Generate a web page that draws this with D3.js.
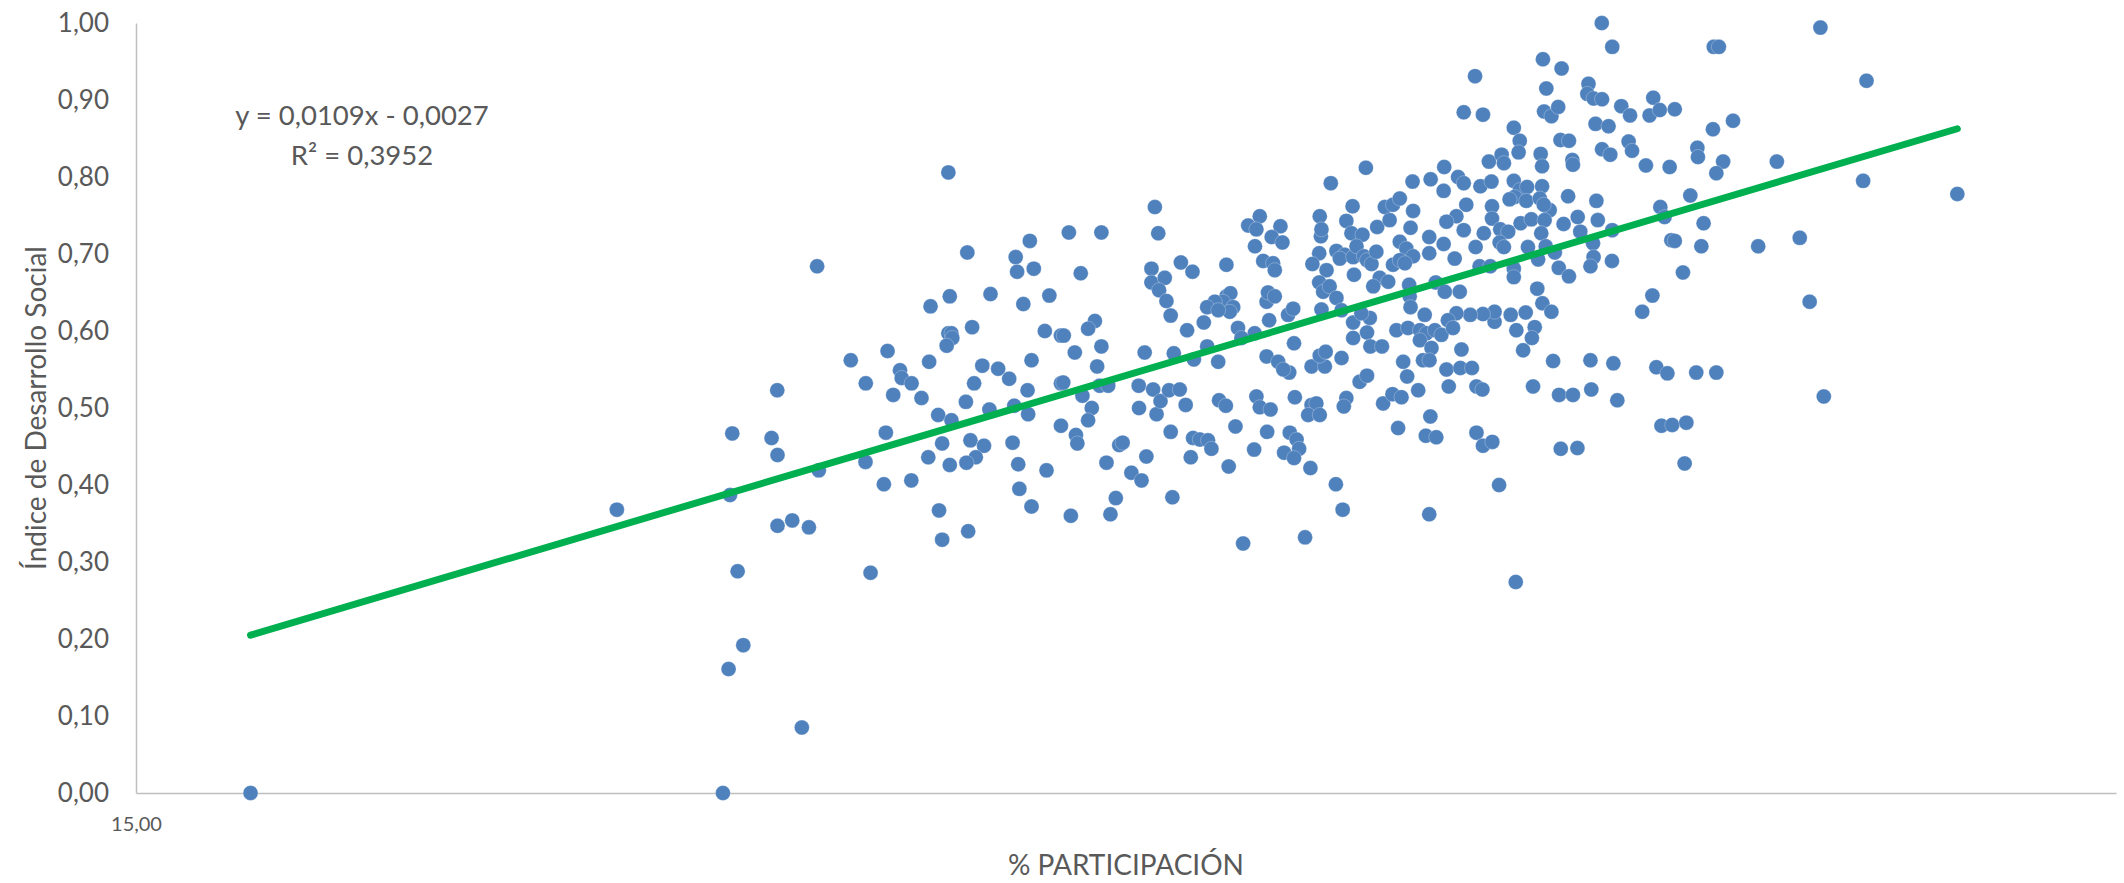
<!DOCTYPE html>
<html>
<head>
<meta charset="utf-8">
<script src="https://cdn.jsdelivr.net/npm/d3@7"></script>
<style>
  body { margin: 0; background: #fff; }
  text { font-family: Lato, "Open Sans", sans-serif; fill: #595959; }
</style>
</head>
<body>
<svg width="2124" height="883"></svg>
<script>
// Datos: [% participación, índice de desarrollo social]
const puntos = [
  [19.05,0.000],[32.0,0.368],
  [36.08,0.467],[37.47,0.461],[37.68,0.439],[36.00,0.387],[37.68,0.347],[38.20,0.354],[38.79,0.345],[36.27,0.288],
  [40.97,0.286],[36.47,0.192],[35.95,0.161],[38.54,0.085],[35.75,0.000],[39.14,0.419],[40.79,0.430],[41.51,0.468],
  [41.44,0.401],[42.41,0.406],[43.50,0.454],[43.01,0.436],[43.77,0.426],[44.50,0.458],[44.98,0.451],[44.69,0.436],
  [44.36,0.429],[43.39,0.367],[43.50,0.329],[44.42,0.340],[45.99,0.455],[46.19,0.427],[46.23,0.395],[46.66,0.372],
  [47.19,0.419],[47.70,0.477],
  [43.72,0.806],[46.60,0.717],[39.08,0.684],[44.39,0.702],[46.10,0.696],[46.15,0.677],[46.74,0.681],[43.77,0.645],
  [43.09,0.632],[45.21,0.648],[46.37,0.635],[47.29,0.646],[44.56,0.605],[47.13,0.600],[47.70,0.594],[43.72,0.597],
  [43.83,0.597],[43.86,0.591],[43.66,0.581],[41.57,0.574],[40.27,0.562],[43.04,0.560],[46.66,0.562],[42.01,0.549],
  [42.07,0.539],[42.42,0.532],[40.80,0.532],[44.92,0.555],[45.48,0.551],[45.87,0.538],[44.63,0.532],[46.52,0.523],
  [47.70,0.532],[37.67,0.523],[41.77,0.517],[42.77,0.513],[44.34,0.508],[45.17,0.498],[46.05,0.503],[46.54,0.492],
  [43.36,0.491],[43.83,0.484],
  [58.48,0.812],[57.24,0.792],[60.13,0.794],[60.77,0.797],[51.02,0.761],[51.14,0.727],[47.98,0.728],[49.13,0.728],
  [48.40,0.675],[54.32,0.737],[54.73,0.749],[54.61,0.732],[55.46,0.736],[55.15,0.722],[55.53,0.715],[54.56,0.710],
  [54.85,0.691],[55.20,0.688],[55.26,0.679],[56.85,0.749],[56.89,0.723],[56.91,0.732],[58.01,0.762],[57.79,0.743],
  [57.97,0.727],[58.36,0.725],[58.88,0.735],[59.15,0.761],[59.44,0.764],[59.68,0.772],[59.32,0.744],[60.15,0.756],
  [60.06,0.734],[60.72,0.722],[60.72,0.701],[56.83,0.701],[56.59,0.687],[57.09,0.679],[57.44,0.704],[57.73,0.699],
  [57.56,0.694],[58.03,0.696],[58.15,0.710],[58.41,0.697],[58.52,0.692],[58.68,0.687],[58.85,0.703],[58.06,0.673],
  [58.97,0.669],[58.74,0.658],[59.27,0.664],[59.44,0.686],[59.68,0.716],[59.91,0.707],[60.15,0.697],[59.68,0.692],
  [59.86,0.688],[60.01,0.660],[60.03,0.645],[60.06,0.631],[60.56,0.621],[60.95,0.663],[56.83,0.663],[56.97,0.651],
  [57.20,0.658],[57.44,0.643],[57.62,0.627],[56.91,0.628],[58.03,0.611],[58.62,0.617],[58.32,0.623],[58.52,0.598],
  [58.03,0.591],[58.64,0.580],[59.05,0.580],[59.56,0.601],[59.97,0.604],[60.39,0.601],[60.62,0.597],[60.92,0.601],
  [60.39,0.588],[60.80,0.578],[60.50,0.562],[60.73,0.562],[59.80,0.560],[59.94,0.541],[60.33,0.523],[60.76,0.489],
  [57.79,0.513],[57.70,0.502],[58.26,0.534],[58.52,0.542],[59.09,0.506],[59.42,0.518],[59.74,0.514],[57.62,0.565],
  [56.56,0.554],[57.03,0.554],[56.85,0.568],[57.06,0.573],[55.94,0.584],[55.97,0.514],[56.56,0.504],[56.73,0.506],
  [56.44,0.491],[56.85,0.491],[55.73,0.621],[55.91,0.629],[55.06,0.614],[54.97,0.638],[55.02,0.650],[55.26,0.645],
  [54.97,0.567],[55.38,0.560],[55.77,0.546],[55.56,0.550],[54.61,0.515],[54.73,0.501],[55.11,0.498],[54.55,0.597],
  [53.96,0.604],[54.08,0.591],[53.55,0.645],[53.69,0.649],[53.43,0.638],[53.79,0.631],[53.67,0.625],[53.14,0.638],
  [52.87,0.631],[53.26,0.627],[52.75,0.611],[52.87,0.580],[51.69,0.571],[52.40,0.563],[53.26,0.560],[53.55,0.686],
  [51.94,0.689],[52.35,0.677],[50.90,0.681],[50.90,0.663],[51.37,0.669],[51.17,0.653],[51.43,0.639],[51.58,0.620],
  [52.16,0.601],[50.66,0.572],[50.45,0.529],[50.96,0.524],[50.46,0.500],[51.08,0.492],[51.22,0.509],[51.52,0.523],
  [51.90,0.524],[52.11,0.504],[53.29,0.510],[53.53,0.503],[48.90,0.613],[48.66,0.603],[47.80,0.594],[48.19,0.572],
  [49.13,0.580],[48.98,0.554],[47.78,0.533],[48.46,0.516],[49.07,0.529],[49.37,0.529],[48.79,0.500],[48.66,0.484],
  [48.23,0.465],[48.28,0.454],[49.31,0.429],[49.76,0.452],[49.88,0.455],[50.72,0.437],[50.19,0.416],[50.55,0.406],
  [49.64,0.383],[49.45,0.362],[48.05,0.360],[51.64,0.384],[51.58,0.469],[52.37,0.461],[52.61,0.459],[52.90,0.458],
  [53.02,0.447],[52.29,0.436],[53.63,0.424],[53.87,0.476],[54.14,0.324],[54.53,0.446],[54.99,0.469],[55.79,0.468],
  [56.03,0.459],[56.12,0.447],[55.59,0.442],[55.94,0.435],[56.52,0.422],[56.33,0.332],[57.42,0.401],[57.66,0.368],
  [59.62,0.474],[60.60,0.464],[60.97,0.462],[60.72,0.362],
  [66.82,1.000],[67.19,0.969],[74.55,0.994],[70.78,0.969],[70.96,0.969],[64.74,0.953],[65.40,0.941],[62.34,0.931],
  [64.86,0.915],[66.35,0.921],[66.31,0.908],[66.53,0.902],[66.83,0.901],[61.94,0.884],[62.62,0.881],[64.78,0.885],
  [65.04,0.879],[65.28,0.891],[67.51,0.892],[67.82,0.880],[68.64,0.903],[68.51,0.880],[68.87,0.887],[69.40,0.888],
  [71.46,0.873],[70.75,0.862],[63.71,0.864],[66.60,0.869],[67.06,0.866],[65.36,0.848],[65.66,0.847],[63.92,0.847],
  [63.88,0.832],[67.77,0.846],[67.89,0.834],[66.83,0.836],[67.12,0.829],[64.66,0.830],[64.71,0.814],[65.78,0.822],
  [65.80,0.816],[68.38,0.815],[69.22,0.813],[70.20,0.838],[70.22,0.826],[71.11,0.820],[70.87,0.805],[73.01,0.820],
  [61.25,0.813],[62.83,0.820],[63.28,0.829],[63.36,0.818],[61.23,0.782],[61.74,0.800],[61.94,0.792],[62.53,0.788],
  [62.92,0.794],[63.71,0.795],[63.92,0.783],[64.18,0.787],[64.71,0.788],[63.74,0.774],[63.56,0.771],[64.15,0.769],
  [64.63,0.772],[65.63,0.775],[66.63,0.769],[62.03,0.764],[62.94,0.762],[64.98,0.757],[64.77,0.764],[61.68,0.749],
  [61.33,0.742],[62.94,0.746],[63.95,0.740],[64.33,0.745],[64.80,0.744],[65.47,0.739],[65.97,0.748],[66.68,0.744],
  [61.94,0.731],[62.65,0.727],[63.23,0.732],[63.51,0.729],[64.68,0.727],[66.06,0.729],[67.19,0.731],[61.23,0.713],
  [62.36,0.709],[63.21,0.715],[63.36,0.709],[64.21,0.709],[64.84,0.710],[65.16,0.702],[66.51,0.714],[66.53,0.696],
  [61.62,0.694],[62.50,0.684],[62.88,0.684],[63.71,0.681],[63.71,0.670],[64.57,0.693],[65.30,0.682],[65.66,0.671],
  [66.42,0.684],[67.18,0.691],[68.89,0.761],[69.04,0.748],[69.95,0.776],[70.42,0.740],[69.28,0.718],[69.40,0.717],
  [70.34,0.710],[72.35,0.710],[73.82,0.721],[69.69,0.676],[74.17,0.638],[61.27,0.651],[61.80,0.651],[64.54,0.655],
  [68.61,0.646],[68.25,0.625],[64.72,0.636],[65.04,0.625],[64.13,0.624],[63.60,0.621],[63.03,0.612],[63.03,0.625],
  [62.62,0.622],[62.17,0.621],[61.68,0.623],[61.38,0.614],[61.15,0.595],[61.56,0.604],[63.80,0.601],[64.45,0.605],
  [64.35,0.591],[64.04,0.575],[61.86,0.576],[61.33,0.550],[61.82,0.552],[62.23,0.552],[61.41,0.528],[62.39,0.528],
  [62.60,0.524],[64.39,0.528],[65.10,0.561],[66.42,0.562],[67.23,0.558],[65.31,0.517],[65.80,0.517],[66.45,0.524],
  [67.37,0.510],[68.75,0.553],[69.14,0.545],[70.16,0.546],[70.87,0.546],[74.67,0.515],
  [68.93,0.477],[69.31,0.478],[69.81,0.481],[69.75,0.428],[62.39,0.468],[62.62,0.451],[62.95,0.456],[63.19,0.400],
  [63.78,0.274],[65.37,0.447],[65.96,0.448],
  [76.18,0.925],[76.06,0.795],[79.39,0.778]
];

// Ejes y tendencia
const yTicks = [0, 0.1, 0.2, 0.3, 0.4, 0.5, 0.6, 0.7, 0.8, 0.9, 1.0];
const xTicks = [15];
const tendencia = [0.0109, -0.0027]; // pendiente, ordenada
const r2 = 0.3952;

const svg = d3.select("svg");
const es = d3.formatLocale({ decimal: ",", thousands: ".", grouping: [3], currency: ["", ""] });
const fmt = es.format(".2f");

const x = d3.scaleLinear().domain([15, 85]).range([136, 2116]);
const y = d3.scaleLinear().domain([0, 1]).range([793, 23]);

// eje Y
const gy = svg.append("g")
  .attr("transform", "translate(136,0)")
  .call(d3.axisLeft(y).tickValues(yTicks).tickFormat(fmt).tickSize(0).tickPadding(27));
gy.select(".domain").attr("stroke", "#bfbfbf").attr("stroke-width", 1.5);
gy.selectAll("text").style("font-family", "Lato, sans-serif").attr("font-size", 26).attr("fill", "#595959");

// eje X
const gx = svg.append("g")
  .attr("transform", "translate(0,793)")
  .call(d3.axisBottom(x).tickValues(xTicks).tickFormat(fmt).tickSize(0).tickPadding(24));
gx.select(".domain").attr("stroke", "#bfbfbf").attr("stroke-width", 1.5);
gx.selectAll("text").style("font-family", "Lato, sans-serif").attr("font-size", 20).attr("fill", "#595959");

// puntos
svg.append("g")
  .selectAll("circle")
  .data(puntos)
  .join("circle")
  .attr("cx", d => x(d[0]))
  .attr("cy", d => y(d[1]))
  .attr("r", 7.5)
  .attr("fill", "#4f81bd")
  .attr("stroke", "#ffffff")
  .attr("stroke-opacity", 0.45)
  .attr("stroke-width", 0.6);

// linea de tendencia (de min a max de x)
const [xmin, xmax] = d3.extent(puntos, d => d[0]);
const lin = v => tendencia[0] * v + tendencia[1];
svg.append("line")
  .attr("x1", x(xmin)).attr("y1", y(lin(xmin)))
  .attr("x2", x(xmax)).attr("y2", y(lin(xmax)))
  .attr("stroke", "#00b050")
  .attr("stroke-width", 7)
  .attr("stroke-linecap", "round");

// ecuacion
svg.append("text")
  .attr("x", 362).attr("y", 125)
  .attr("text-anchor", "middle")
  .attr("font-size", 27.5)
  .text("y = 0,0109x - 0,0027");
svg.append("text")
  .attr("x", 362).attr("y", 165)
  .attr("text-anchor", "middle")
  .attr("font-size", 27.5)
  .text("R² = " + es.format(".4f")(r2));

// titulos
svg.append("text")
  .attr("x", 1126).attr("y", 875)
  .attr("text-anchor", "middle")
  .attr("font-size", 28)
  .text("% PARTICIPACIÓN");

svg.append("text")
  .attr("transform", "translate(46,408) rotate(-90)")
  .attr("text-anchor", "middle")
  .attr("font-size", 28)
  .text("Índice de Desarrollo Social");
</script>
</body>
</html>
